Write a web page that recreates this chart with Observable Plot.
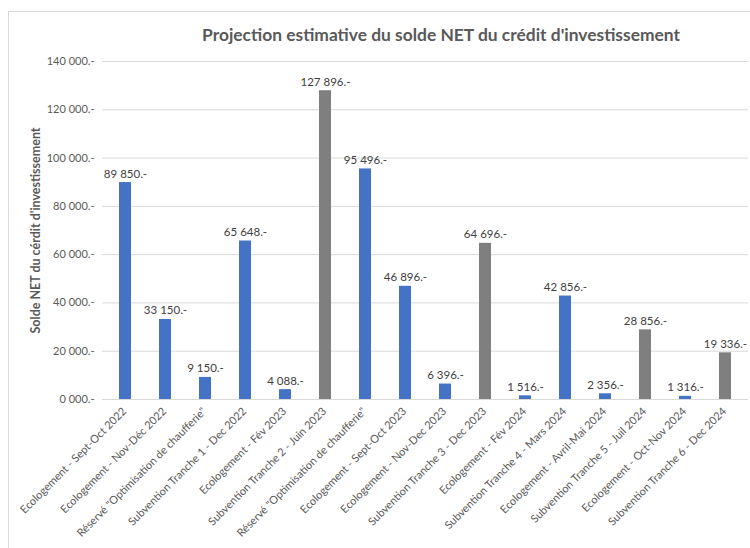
<!DOCTYPE html>
<html>
<head>
<meta charset="utf-8">
<script src="https://cdn.jsdelivr.net/npm/d3@7"></script>
<script src="https://cdn.jsdelivr.net/npm/@observablehq/plot@0.6"></script>
<style>
  html, body { margin: 0; padding: 0; background: #fff; }
  #wrap { position: relative; width: 750px; height: 548px; overflow: hidden; font-family: Lato, "Open Sans", sans-serif; }
  #frame { position: absolute; left: 8px; top: 11px; width: 800px; height: 600px; border-top: 1px solid #d9d9d9; border-left: 1px solid #d9d9d9; }
  #title { position: absolute; left: 0; width: 882px; top: 24px; text-align: center; font-size: 17.4px; font-weight: bold; color: #595959; }
  #chart { position: absolute; left: 0; top: 0; }
</style>
</head>
<body>
<div id="wrap">
  <div id="frame"></div>
  <div id="chart"></div>
  <div id="title">Projection estimative du solde NET du crédit d'investissement</div>
</div>
<script>
const categories = [
  "Ecologement - Sept-Oct 2022",
  "Ecologement - Nov-Déc 2022",
  "Réservé \"Optimisation de chaufferie\"",
  "Subvention Tranche 1 - Dec 2022",
  "Ecologement - Fév 2023",
  "Subvention Tranche 2 - Juin 2023",
  "Réservé \"Optimisation de chaufferie\"",
  "Ecologement - Sept-Oct 2023",
  "Ecologement - Nov-Dec 2023",
  "Subvention Tranche 3 - Dec 2023",
  "Ecologement - Fév 2024",
  "Subvention Tranche 4 - Mars 2024",
  "Ecologement - Avril-Mai 2024",
  "Subvention Tranche 5 - Juil 2024",
  "Ecologement - Oct-Nov 2024",
  "Subvention Tranche 6 - Dec 2024"
];
const values = [89850, 33150, 9150, 65648, 4088, 127896, 95496, 46896, 6396, 64696, 1516, 42856, 2356, 28856, 1316, 19336];
const valueLabels = ["89 850.-", "33 150.-", "9 150.-", "65 648.-", "4 088.-", "127 896.-", "95 496.-", "46 896.-", "6 396.-", "64 696.-", "1 516.-", "42 856.-", "2 356.-", "28 856.-", "1 316.-", "19 336.-"];
const kinds = ["Ecologement", "Ecologement", "Réservé", "Subvention", "Ecologement", "Tranche", "Réservé", "Ecologement", "Ecologement", "Tranche", "Ecologement", "Subvention", "Ecologement", "Tranche", "Ecologement", "Tranche"];
const yTicks = [0, 20000, 40000, 60000, 80000, 100000, 120000, 140000];
const yTickLabels = ["0 000.-", "20 000.-", "40 000.-", "60 000.-", "80 000.-", "100 000.-", "120 000.-", "140 000.-"];
const yTitle = "Solde NET du cérdit d'investissement";

const data = values.map((v, i) => ({i, cat: categories[i], value: v, label: valueLabels[i], kind: kinds[i]}));
const colorOf = k => k === "Tranche" ? "#7f7f7f" : "#4472c4";

const chart = Plot.plot({
  width: 750,
  height: 548,
  marginLeft: 102,
  marginRight: 2,
  marginTop: 61,
  marginBottom: 149,
  style: {fontFamily: "Lato, 'Open Sans', sans-serif", background: "transparent"},
  x: {type: "band", domain: d3.range(values.length), paddingInner: 0.7, paddingOuter: 0.35, axis: null},
  y: {domain: [0, 140000]},
  marks: [
    Plot.gridY(yTicks, {stroke: "#d9d9d9", strokeOpacity: 1}),
    Plot.barY(data, {x: "i", y: "value", fill: d => colorOf(d.kind)}),
    Plot.ruleY([0], {stroke: "#d9d9d9"}),
    Plot.text(data, {x: "i", y: "value", text: "label", lineAnchor: "bottom", dy: -5, fill: "#404040", fontSize: 11.5}),
    Plot.axisY(yTicks, {tickFormat: (d) => yTickLabels[yTicks.indexOf(d)], tickSize: 0, tickPadding: 8, fontSize: 11, fill: "#595959", label: null}),
    Plot.text(data, {x: "i", frameAnchor: "bottom", text: "cat", rotate: -45, textAnchor: "end", lineAnchor: "middle", dy: 10, dx: -1, fontSize: 11, fill: "#595959"}),
    Plot.text([yTitle], {frameAnchor: "left", rotate: -90, textAnchor: "middle", dx: -67, fontWeight: "bold", fontSize: 12.5, fill: "#595959"})
  ]
});
document.getElementById("chart").appendChild(chart);
</script>
</body>
</html>
